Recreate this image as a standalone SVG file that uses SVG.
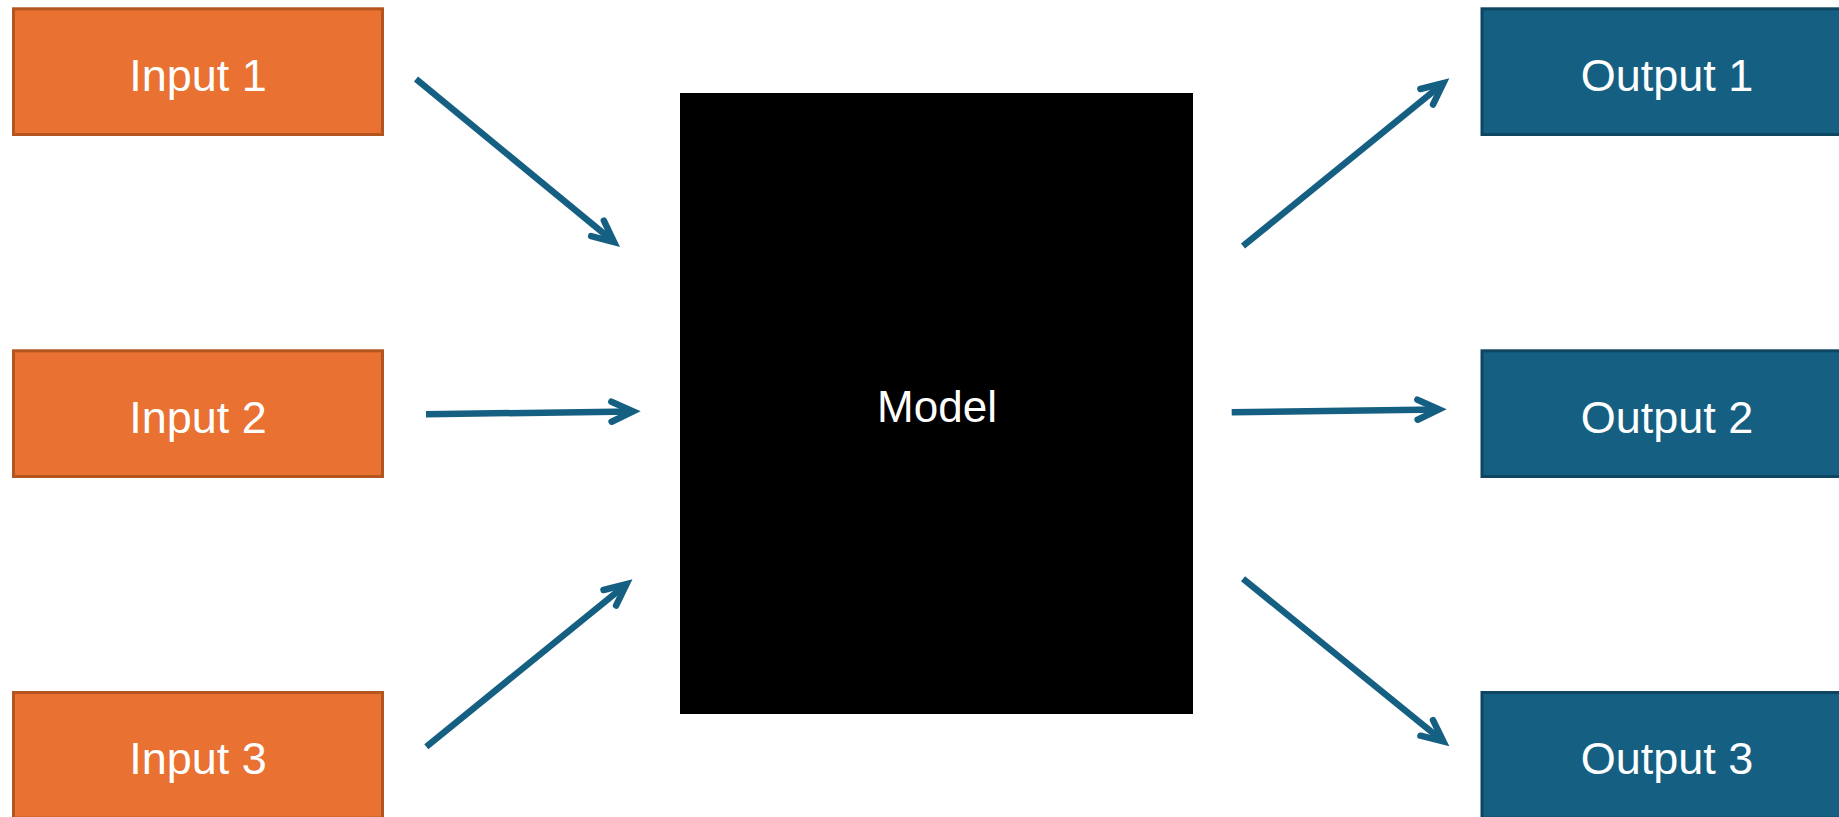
<svg xmlns="http://www.w3.org/2000/svg" width="1839" height="817" viewBox="0 0 1839 817">
  <style>
    .in rect { fill: #E97132; stroke: #B4541F; stroke-width: 3; }
    .out rect { fill: #156082; stroke: #0E4561; stroke-width: 3; }
    .lbl { font-family: "Liberation Sans", Arial, sans-serif; font-size: 45px; fill: #FFFFFF; text-anchor: middle; }
    .conn line { stroke: #156082; stroke-width: 6.5; stroke-linecap: butt; marker-end: url(#arrow); }
  </style>
  <defs>
    <marker id="arrow" markerUnits="userSpaceOnUse" orient="auto" viewBox="-40 -25 50 50" markerWidth="50" markerHeight="50" refX="0" refY="0" overflow="visible">
      <path d="M -21.5 -10 L 0 0 L -21.5 10" fill="none" stroke="#156082" stroke-width="6.5" stroke-linejoin="miter" stroke-linecap="round"/>
    </marker>
  </defs>
  <rect width="1839" height="817" fill="#FFFFFF"/>

  <g id="input1" class="in">
    <rect x="13.5" y="8.8" width="369" height="125.7"/>
    <text class="lbl" x="198" y="91">Input 1</text>
  </g>
  <g id="input2" class="in">
    <rect x="13.5" y="350.8" width="369" height="125.7"/>
    <text class="lbl" x="198" y="433">Input 2</text>
  </g>
  <g id="input3" class="in">
    <rect x="13.5" y="692.5" width="369" height="125.7"/>
    <text class="lbl" x="198" y="774">Input 3</text>
  </g>

  <g id="model">
    <rect x="680" y="93" width="513" height="621" fill="#000000"/>
    <text class="lbl" x="937" y="422" style="font-size:44px">Model</text>
  </g>

  <g id="output1" class="out">
    <rect x="1482" y="8.8" width="369" height="125.7"/>
    <text class="lbl" x="1667" y="91">Output 1</text>
  </g>
  <g id="output2" class="out">
    <rect x="1482" y="350.8" width="369" height="125.7"/>
    <text class="lbl" x="1667" y="433">Output 2</text>
  </g>
  <g id="output3" class="out">
    <rect x="1482" y="692.5" width="369" height="125.7"/>
    <text class="lbl" x="1667" y="774">Output 3</text>
  </g>

  <g id="connectors" class="conn">
    <line x1="416" y1="79" x2="614.1" y2="242.1"/>
    <line x1="426" y1="414.3" x2="633" y2="411.4"/>
    <line x1="426.3" y1="746.7" x2="626.5" y2="584.2"/>
    <line x1="1243" y1="246" x2="1443.4" y2="83.2"/>
    <line x1="1231.7" y1="412.3" x2="1439" y2="409.4"/>
    <line x1="1243" y1="578.7" x2="1443.4" y2="741.5"/>
  </g>
</svg>
